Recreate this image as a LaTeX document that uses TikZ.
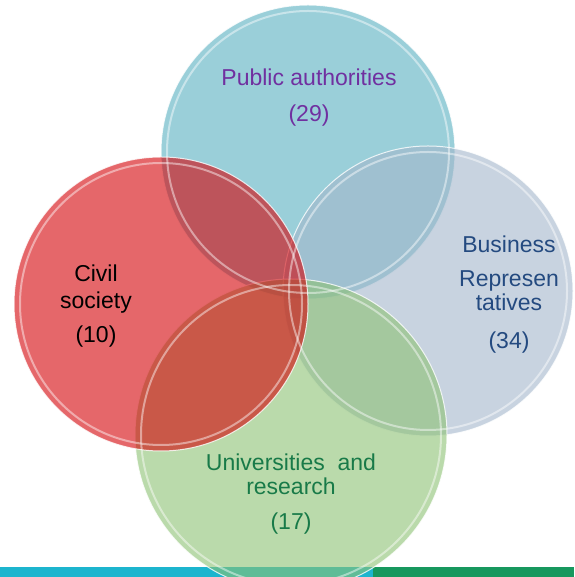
\documentclass[tikz,border=0pt]{standalone}
\usepackage{fontspec}
\setmainfont{Liberation Sans}
\definecolor{pubfill}{RGB}{87,175,192}
\definecolor{busfill}{RGB}{163,182,203}
\definecolor{unifill}{RGB}{140,193,115}
\definecolor{civfill}{RGB}{212,2,7}
\definecolor{pubtext}{RGB}{112,48,160}
\definecolor{bustext}{RGB}{36,74,128}
\definecolor{unitext}{RGB}{24,122,72}
\definecolor{barcyan}{RGB}{28,181,206}
\definecolor{bargreen}{RGB}{23,152,94}
\tikzset{
  disc/.style={circle,inner sep=0pt,fill opacity=0.6,draw=white,draw opacity=0.8,line width=1pt},
  rim/.style={draw=white,draw opacity=0.45,line width=2pt},
  tag/.style={align=center,font=\fontsize{23}{24}\selectfont}
}
\begin{document}
\begin{tikzpicture}[x=1pt,y=1pt]
    \useasboundingbox (0,0) rectangle (574,577);

    % bottom strip
    \fill[barcyan] (0,0) rectangle (373,10);
    \fill[bargreen] (373,0) rectangle (574,10);

    \node[disc,fill=pubfill,minimum size=294pt] (pub) at (308,425) {};
    \node[disc,fill=busfill,minimum size=290pt] (bus) at (428,286) {};
    \node[disc,fill=unifill,minimum size=312pt] (uni) at (291,142) {};
    \node[disc,fill=civfill,minimum size=294pt] (civ) at (161,273) {};

    \draw[rim] (pub.center) circle (141pt);
    \draw[rim] (bus.center) circle (139pt);
    \draw[rim] (uni.center) circle (150pt);
    \draw[rim] (civ.center) circle (141pt);

    \node[tag,text=pubtext] (publbl) at (309,479) {Public authorities\\[12pt](29)};
    \node[tag,text=bustext] (buslbl) at (509,282) {Business\\[10pt]Represen\\tatives\\[14pt](34)};
    \node[tag,text=unitext] (unilbl) at (291,83) {Universities\ \ and\\research\\[11pt](17)};
    \node[tag,text=black] (civlbl) at (96,271) {Civil\\[3pt]society\\[10pt](10)};
\end{tikzpicture}
\end{document}
